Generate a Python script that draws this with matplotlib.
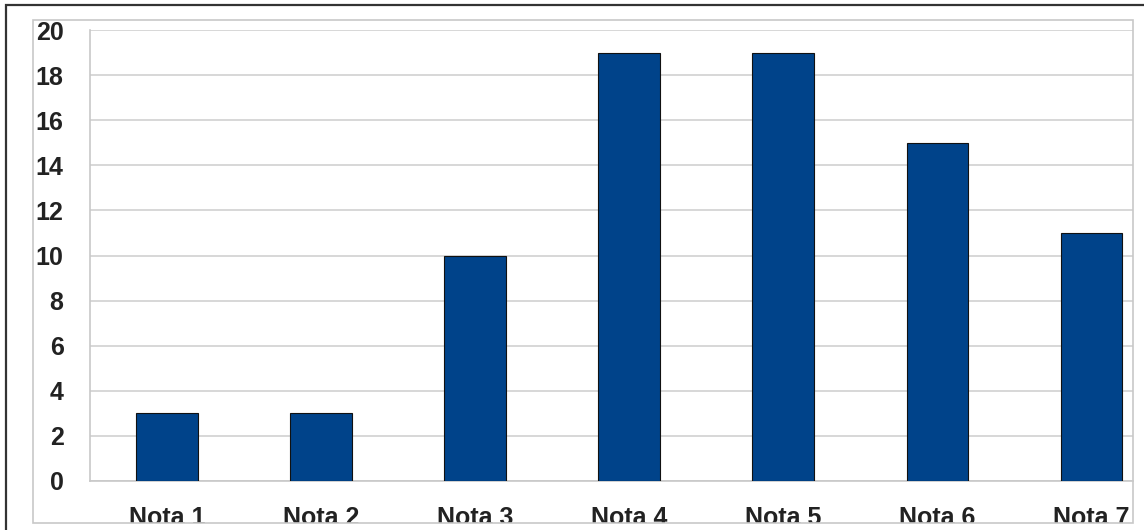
import matplotlib.pyplot as plt
from matplotlib.patches import Rectangle
from matplotlib.transforms import Bbox, TransformedBbox

categories = ["Nota 1", "Nota 2", "Nota 3", "Nota 4", "Nota 5", "Nota 6", "Nota 7"]
values = [3, 3, 10, 19, 19, 15, 11]
y_ticks = [0, 2, 4, 6, 8, 10, 12, 14, 16, 18, 20]

plt.rcParams["font.family"] = ["Liberation Sans", "DejaVu Sans"]

W, H = 1144, 530
fig = plt.figure(figsize=(W / 100, H / 100), dpi=100)

# outer frames (black border top/left, light gray chart frame)
fig.patches.append(Rectangle((6 / W, -0.1), 1.2, (H - 5) / H + 0.1, transform=fig.transFigure,
                             fill=False, edgecolor="#333333", linewidth=1.6))
fig.patches.append(Rectangle((33 / W, 7 / H), (1133 - 33) / W, (523 - 20) / H,
                             transform=fig.transFigure, fill=False,
                             edgecolor="#c8c8c8", linewidth=1.2))

ax = fig.add_axes([90 / W, 1 - 481 / H, (1133 - 90) / W, (481 - 30) / H])
x = list(range(len(categories)))
ax.bar(x, values, width=0.40, color="#00438A", edgecolor="#111111", linewidth=0.8, zorder=3)

ax.set_xlim(-0.5, 6.27)
ax.set_ylim(0, 20)
ax.set_yticks(y_ticks)
ax.set_xticks(x)
ax.set_xticklabels(categories)
ax.yaxis.grid(True, color="#d4d4d4", linewidth=1.3, zorder=0)
ax.set_axisbelow(True)

for s in ["top", "right"]:
    ax.spines[s].set_visible(False)
for s in ["left", "bottom"]:
    ax.spines[s].set_color("#c8c8c8")
    ax.spines[s].set_linewidth(1.2)

ax.tick_params(axis="y", length=0, pad=19, labelsize=18, labelcolor="#222222")
ax.tick_params(axis="x", length=0, pad=18, labelsize=18, labelcolor="#222222")
for lbl in ax.get_xticklabels() + ax.get_yticklabels():
    lbl.set_fontweight("bold")

# labels are cut by the chart frame at the bottom
clip = TransformedBbox(Bbox([[0, 7 / H], [1, 1]]), fig.transFigure)
for lbl in ax.get_xticklabels():
    lbl.set_clip_box(clip)
    lbl.set_clip_on(True)

fig.savefig("out.png", dpi=100)
